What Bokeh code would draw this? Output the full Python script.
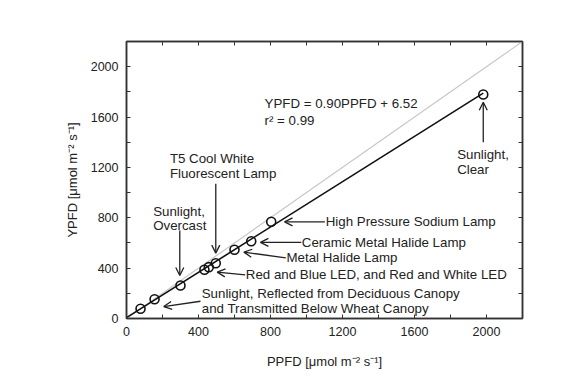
from bokeh.plotting import figure
from bokeh.models import Range1d, LinearAxis, FixedTicker, Arrow, OpenHead, ColumnDataSource
from bokeh.core.properties import value
from bokeh.embed import file_html
from bokeh.resources import INLINE

# measured points
ppfd = [78, 156, 300, 433, 457, 496, 600, 693, 804, 1982]
ypfd = [77, 153, 262, 387, 408, 439, 546, 614, 768, 1779]

# regression line endpoints (YPFD = 0.90PPFD + 6.52)
fit_x = [0, 1982]
fit_y = [6.52, 1790.3]
# 1:1 reference line
one_x = [0, 2200]
one_y = [0, 2200]

major_ticks = [0, 400, 800, 1200, 1600, 2000]
minor_ticks = [200, 600, 1000, 1400, 1800, 2200]
all_ticks = [0, 200, 400, 600, 800, 1000, 1200, 1400, 1600, 1800, 2000, 2200]

# annotation texts (one entry per line)
ann_text = [
    "YPFD = 0.90PPFD + 6.52", "r\u00b2 = 0.99",
    "Sunlight,", "Clear",
    "T5 Cool White", "Fluorescent Lamp",
    "Sunlight,", "Overcast",
    "High Pressure Sodium Lamp",
    "Ceramic Metal Halide Lamp",
    "Metal Halide Lamp",
    "Red and Blue LED, and Red and White LED",
    "Sunlight, Reflected from Deciduous Canopy",
    "and Transmitted Below Wheat Canopy",
]
ann_x = [767, 767, 1837, 1837, 241, 241, 148, 148, 1107, 974, 889, 663, 418, 418]
ann_y = [1708, 1573, 1303, 1181, 1273, 1149, 852, 739, 768, 604, 482, 347, 196, 82]

arr_x0 = [1982, 496, 296, 1102, 971, 885, 659, 411]
arr_y0 = [1400, 1070, 699, 768, 604, 482, 347, 137]
arr_x1 = [1982, 496, 296, 878, 744, 652, 504, 207]
arr_y1 = [1718, 519, 342, 768, 604, 527, 368, 95]

FONT = "Liberation Sans"
TXT = "#222222"
AX = "#333333"

p = figure(width=548, height=376, x_range=Range1d(0, 2200), y_range=Range1d(0, 2200),
           output_backend="svg", toolbar_location=None,
           min_border_left=126, min_border_right=26, min_border_top=41, min_border_bottom=58)
p.grid.visible = False
p.outline_line_color = AX
p.outline_line_width = 1.5
p.background_fill_color = "white"
p.border_fill_color = "white"

def style_ticks(ax):
    ax.major_tick_in = 4
    ax.major_tick_out = 0
    ax.minor_tick_in = 4
    ax.minor_tick_out = 0
    ax.axis_line_color = AX
    ax.axis_line_width = 1.5
    ax.major_tick_line_color = AX
    ax.minor_tick_line_color = AX

for ax in (p.xaxis[0], p.yaxis[0]):
    ax.ticker = FixedTicker(ticks=major_ticks, minor_ticks=minor_ticks)
    style_ticks(ax)
    ax.major_label_text_font = FONT
    ax.major_label_text_color = TXT
    ax.major_label_text_font_size = "12.5px"
    ax.major_label_standoff = 8
    ax.axis_label_text_font = FONT
    ax.axis_label_text_font_size = "13px"
    ax.axis_label_text_font_style = "normal"
    ax.axis_label_text_color = TXT

p.xaxis[0].axis_label = "PPFD [\u03bcmol m\u207b\u00b2 s\u207b\u00b9]"
p.yaxis[0].axis_label = "YPFD [\u03bcmol m\u207b\u00b2 s\u207b\u00b9]"
p.xaxis[0].axis_label_standoff = 15
p.yaxis[0].axis_label_standoff = 8

# mirrored tick marks on top and right (ticks only, no labels)
for side in ("above", "right"):
    ax = LinearAxis(ticker=FixedTicker(ticks=[], minor_ticks=all_ticks))
    style_ticks(ax)
    p.add_layout(ax, side)

p.line(one_x, one_y, line_color="#c8c8c8", line_width=1.2)
p.line(fit_x, fit_y, line_color="#111111", line_width=1.6)
p.scatter(ppfd, ypfd, marker="circle", size=9, fill_color=None, line_color="#111111", line_width=1.6)

p.text(x=ann_x, y=ann_y, text=ann_text, text_font=value(FONT), text_font_size="13.3px",
       text_align="left", text_baseline="middle", text_color=TXT)

src = ColumnDataSource(dict(x0=arr_x0, y0=arr_y0, x1=arr_x1, y1=arr_y1))
p.add_layout(Arrow(end=OpenHead(size=8, line_width=1.3, line_color="#222222"),
                   x_start="x0", y_start="y0", x_end="x1", y_end="y1", source=src,
                   line_width=1.3, line_color="#222222"))

open("out.html", "w").write(file_html(p, INLINE))
